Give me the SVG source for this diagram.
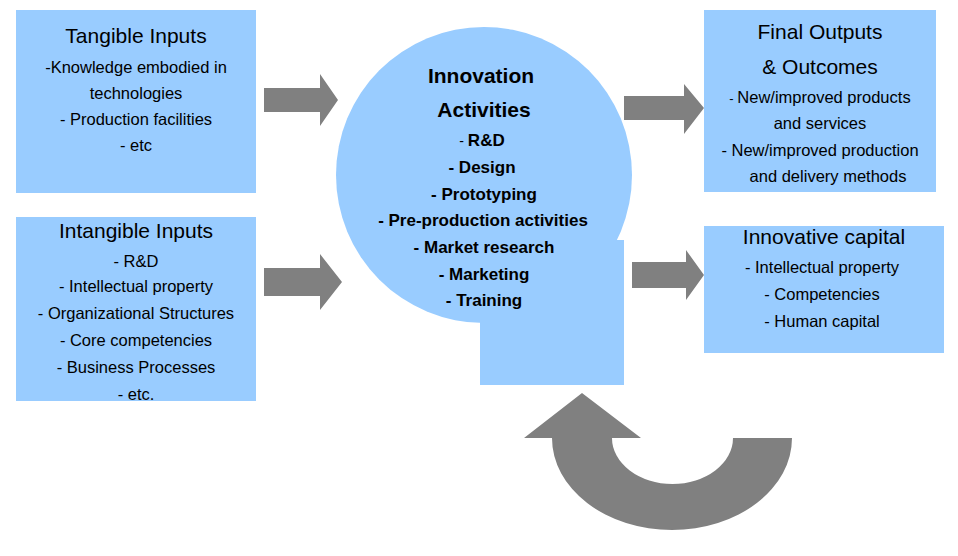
<svg xmlns="http://www.w3.org/2000/svg" width="958" height="556" viewBox="0 0 958 556">
<style>
.b{fill:#99ccff}
.a{fill:#808080}
text{font-family:"Liberation Sans",Arial,sans-serif;fill:#000;text-anchor:middle}
.h{font-size:21px}
.t{font-size:16.5px}
.c{font-size:17px;font-weight:bold}
.ch{font-size:21px;font-weight:bold}
</style>
<rect width="958" height="556" fill="#fff"/>
<g id="tangible"><rect class="b" x="16" y="10" width="240" height="183"/>
<text class="h" x="136" y="43">Tangible Inputs</text>
<text class="t" x="136" y="73">-Knowledge embodied in</text>
<text class="t" x="136" y="99">technologies</text>
<text class="t" x="136" y="125">- Production facilities</text>
<text class="t" x="136" y="151">- etc</text></g>
<g id="intangible"><rect class="b" x="16" y="217" width="240" height="184"/>
<text class="h" x="136" y="238">Intangible Inputs</text>
<text class="t" x="136" y="267">- R&amp;D</text>
<text class="t" x="136" y="292">- Intellectual property</text>
<text class="t" x="136" y="319">-  Organizational Structures</text>
<text class="t" x="136" y="346">-  Core competencies</text>
<text class="t" x="136" y="373">-  Business Processes</text>
<text class="t" x="136" y="400">-  etc.</text></g>
<g id="innovation"><circle class="b" cx="484" cy="175" r="148"/>
<rect class="b" x="480" y="240" width="144" height="145"/>
<text class="ch" x="481" y="83">Innovation</text>
<text class="ch" x="484" y="117">Activities</text>
<text class="c" x="482" y="146"><tspan style="font-weight:normal;font-size:14px">- </tspan>R&amp;D</text>
<text class="c" x="482" y="173">- Design</text>
<text class="c" x="484" y="200">- Prototyping</text>
<text class="c" x="483" y="226">- Pre-production activities</text>
<text class="c" x="484" y="253">- Market research</text>
<text class="c" x="484" y="280">- Marketing</text>
<text class="c" x="484" y="306">- Training</text></g>
<g id="outputs"><rect class="b" x="704" y="10" width="232" height="182"/>
<text class="h" x="820" y="39">Final Outputs</text>
<text class="h" x="820" y="74">&amp; Outcomes</text>
<text class="t" x="820" y="103"><tspan style="font-size:13px">-  </tspan>New/improved products</text>
<text class="t" x="820" y="129">and services</text>
<text class="t" x="820" y="156">-  New/improved production</text>
<text class="t" x="828" y="182">and delivery methods</text></g>
<g id="capital"><rect class="b" x="704" y="226" width="240" height="127"/>
<text class="h" x="824" y="244">Innovative capital</text>
<text class="t" x="822" y="273">-  Intellectual property</text>
<text class="t" x="822" y="300">-  Competencies</text>
<text class="t" x="822" y="327">-  Human capital</text></g>
<g id="connectors">
<path class="a" d="M264,88 H320 V74 L338,100 L320,126 V112 H264 Z"/>
<path class="a" d="M264,268 H320 V254 L342,282 L320,310 V296 H264 Z"/>
<path class="a" d="M624,96 H684 V84 L704,108 L684,134 V120 H624 Z"/>
<path class="a" d="M632,262 H686 V250 L704,275 L686,300 V288 H632 Z"/>
<path class="a" d="M552,438 A120,92 0 0 0 792,438 L733,438 A60.5,46 0 0 1 612,438 L641,438 L582,393 L524,438 Z"/>
</g>
</svg>
